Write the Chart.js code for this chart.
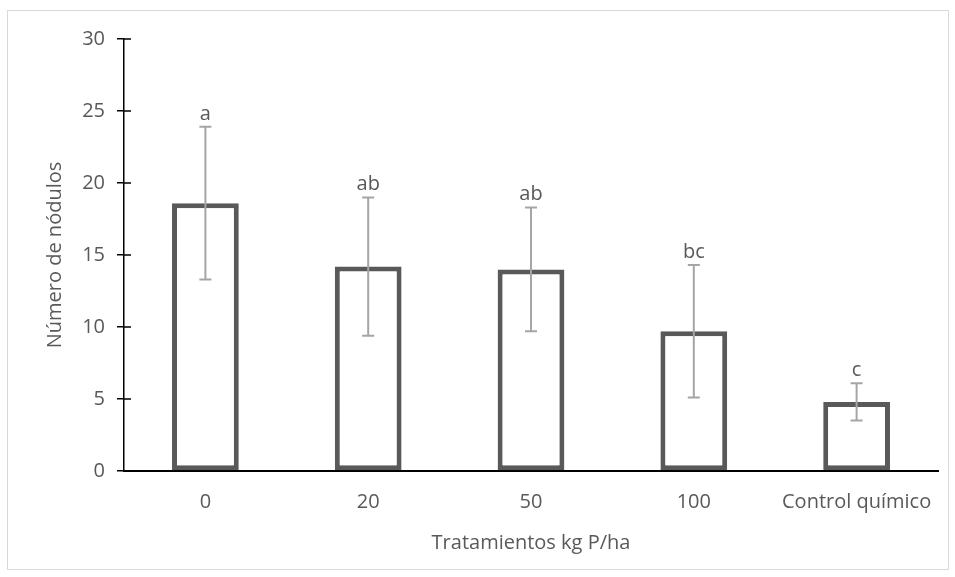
<!DOCTYPE html>
<html>
<head>
<meta charset="utf-8">
<script src="https://cdn.jsdelivr.net/npm/chart.js@4"></script>
<style>
  html, body { margin: 0; padding: 0; background: #fff; }
  #wrap { width: 955px; height: 577px; position: relative; }
</style>
</head>
<body>
<div id="wrap"><canvas id="nodule-chart" width="955" height="577"></canvas></div>
<script>
// datos
const treatments = ['0', '20', '50', '100', 'Control químico'];
const nodules = [18.6, 14.2, 14.0, 9.7, 4.8];
const stdDev = [5.3, 4.8, 4.3, 4.6, 1.3];
const letters = ['a', 'ab', 'ab', 'bc', 'c'];
const yTicks = [0, 5, 10, 15, 20, 25, 30];

const textGray = '#595959';
const fontFamily = '"Open Sans", sans-serif';

// error bars + letras
const errorBars = {
    id: 'errorBars',
    afterDatasetsDraw(chart) {
        const ctx = chart.ctx;
        const meta = chart.getDatasetMeta(0);
        const yScale = chart.scales.y;
        ctx.save();
        meta.data.forEach((bar, i) => {
            const x = bar.x;
            const top = yScale.getPixelForValue(nodules[i] + stdDev[i]);
            const bottom = yScale.getPixelForValue(nodules[i] - stdDev[i]);
            ctx.strokeStyle = '#a5a5a5';
            ctx.lineWidth = 2;
            ctx.beginPath();
            ctx.moveTo(x, top);
            ctx.lineTo(x, bottom);
            ctx.moveTo(x - 6, top);
            ctx.lineTo(x + 6, top);
            ctx.moveTo(x - 6, bottom);
            ctx.lineTo(x + 6, bottom);
            ctx.stroke();

            ctx.fillStyle = textGray;
            ctx.font = '20px ' + fontFamily;
            ctx.textAlign = 'center';
            ctx.textBaseline = 'bottom';
            ctx.fillText(letters[i], x, top - 3);
        });
        ctx.restore();
    }
};

// ticks que cruzan el eje y + marco exterior
const frame = {
    id: 'frame',
    afterDraw(chart) {
        const ctx = chart.ctx;
        const yScale = chart.scales.y;
        ctx.save();
        ctx.strokeStyle = '#000';
        ctx.lineWidth = 1.5;
        ctx.beginPath();
        yTicks.forEach(v => {
            const y = yScale.getPixelForValue(v);
            ctx.moveTo(yScale.right, y);
            ctx.lineTo(yScale.right + 7, y);
        });
        ctx.stroke();
        ctx.strokeStyle = '#d9d9d9';
        ctx.lineWidth = 1;
        ctx.strokeRect(7.5, 10.5, 941, 559);
        ctx.restore();
    }
};

new Chart(document.querySelector('#nodule-chart').getContext('2d'), {
    type: 'bar',
    data: {
        labels: treatments,
        datasets: [{
            label: 'Número de nódulos',
            data: nodules,
            backgroundColor: '#ffffff',
            borderColor: '#595959',
            borderWidth: 5,
            borderSkipped: false,
            categoryPercentage: 1,
            barPercentage: 0.41
        }]
    },
    options: {
        responsive: false,
        animation: false,
        layout: { padding: { top: 39, right: 17, left: 39, bottom: 18 } },
        plugins: {
            legend: { display: false },
            tooltip: { enabled: false }
        },
        scales: {
            x: {
                grid: { display: false, drawTicks: false },
                border: { color: '#000', width: 2 },
                ticks: { color: textGray, font: { family: fontFamily, size: 20 }, padding: 19, maxRotation: 0 },
                title: {
                    display: true,
                    text: 'Tratamientos kg P/ha',
                    color: textGray,
                    font: { family: fontFamily, size: 20 },
                    padding: { top: 10 }
                },
                afterFit(scale) { scale.height = 577 - 471 - 18; }
            },
            y: {
                min: 0,
                max: 30,
                afterBuildTicks(scale) { scale.ticks = yTicks.map(v => ({ value: v })); },
                grid: { drawOnChartArea: false, color: '#000', tickLength: 7, lineWidth: 1.5 },
                border: { color: '#000', width: 1.5 },
                ticks: { color: textGray, font: { family: fontFamily, size: 20 }, padding: 12 },
                title: {
                    display: true,
                    text: 'Número de nódulos',
                    color: textGray,
                    font: { family: fontFamily, size: 20 },
                    padding: { bottom: 24 }
                },
                afterFit(scale) { scale.width = 124 - 39; }
            }
        }
    },
    plugins: [errorBars, frame]
});
</script>
</body>
</html>
